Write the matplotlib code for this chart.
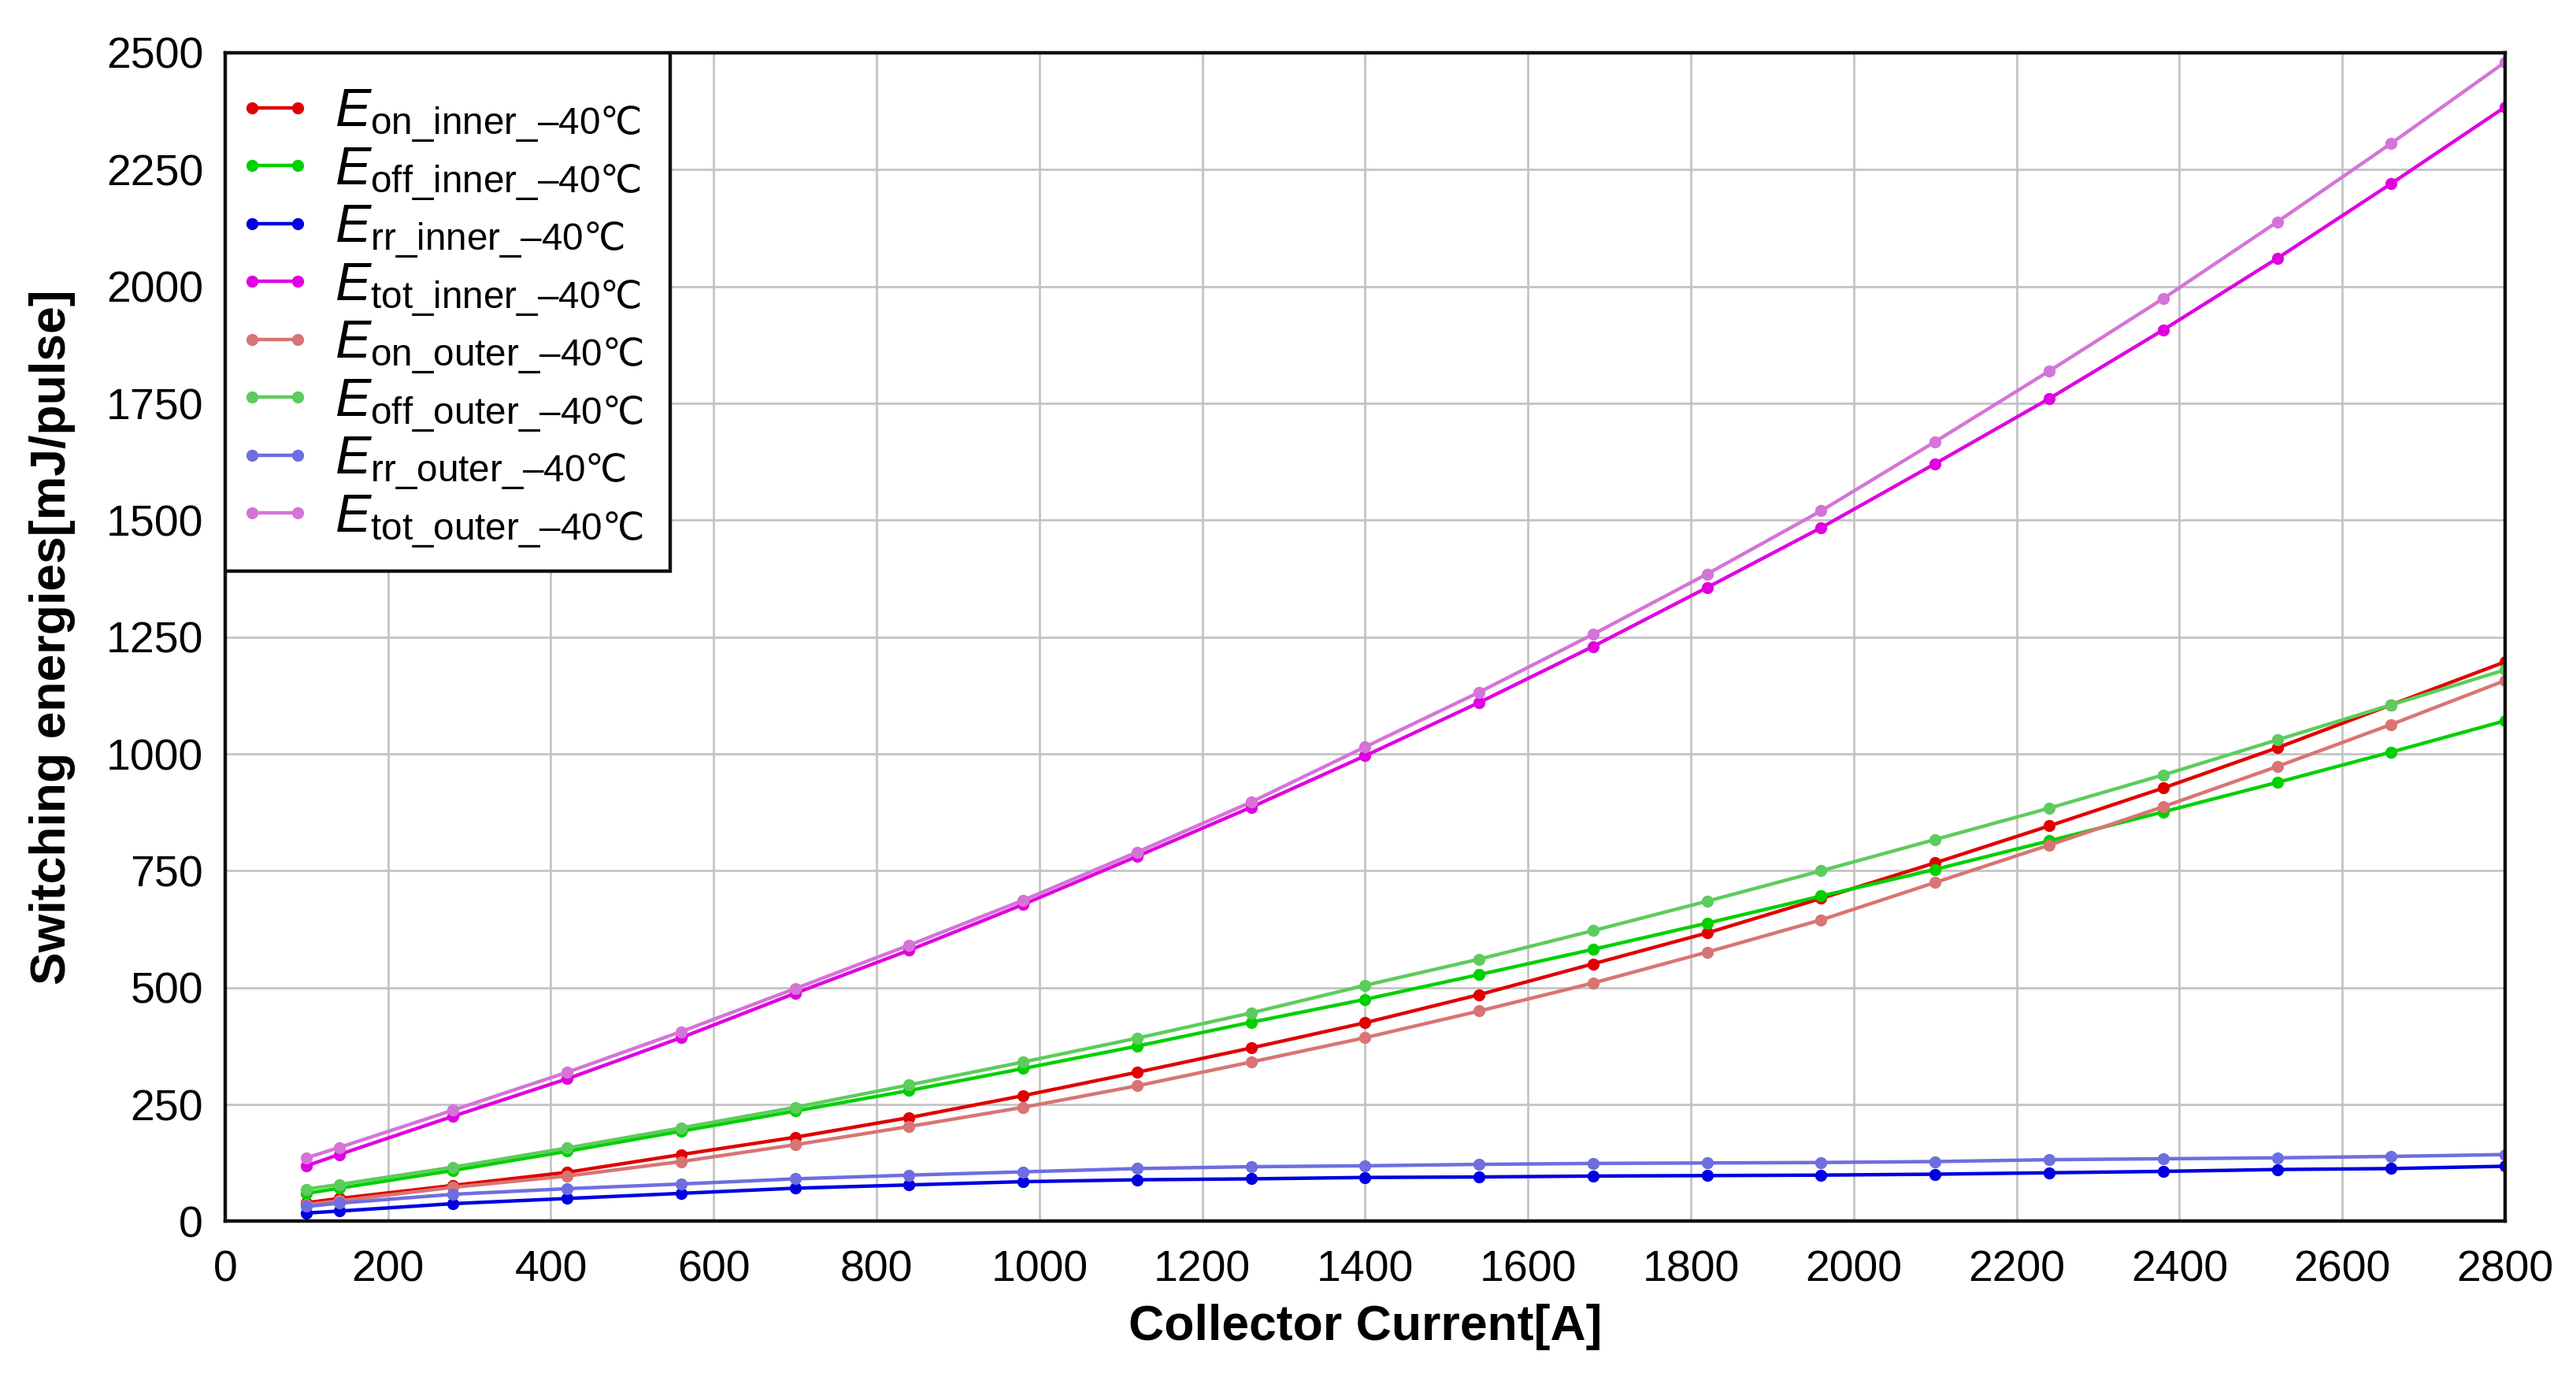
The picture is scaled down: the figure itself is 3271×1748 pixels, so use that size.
import matplotlib
matplotlib.use("Agg")
import matplotlib.pyplot as plt
from matplotlib.patches import Rectangle
from matplotlib.transforms import IdentityTransform

plt.rcParams['font.family'] = ['Liberation Sans', 'DejaVu Sans']
plt.rcParams['mathtext.fontset'] = 'custom'
plt.rcParams['mathtext.rm'] = 'Liberation Sans'
plt.rcParams['mathtext.it'] = 'Liberation Sans:italic'
plt.rcParams['mathtext.sf'] = 'Noto Sans CJK SC'

current = [100, 140, 280, 420, 560, 700, 840, 980, 1120, 1260, 1400,
           1540, 1680, 1820, 1960, 2100, 2240, 2380, 2520, 2660, 2800]

eon_inner = [40, 49, 77, 105, 143, 180, 222, 269, 319, 371, 425,
             485, 551, 617, 691, 767, 846, 927, 1013, 1105, 1197]
eoff_inner = [60, 71, 109, 150, 193, 236, 280, 327, 375, 426, 475,
              528, 582, 638, 696, 753, 814, 876, 939, 1004, 1071]
err_inner = [18, 22, 38, 49, 60, 71, 78, 85, 89, 91, 94,
             95, 97, 98, 99, 101, 104, 107, 111, 113, 118]
etot_inner = [119, 143, 225, 305, 393, 488, 580, 678, 781, 886, 996,
              1110, 1230, 1356, 1484, 1621, 1760, 1907, 2060, 2220, 2384]
eon_outer = [36, 44, 73, 97, 128, 164, 203, 244, 290, 341, 393,
             450, 510, 576, 645, 725, 805, 887, 973, 1063, 1157]
eoff_outer = [69, 79, 116, 157, 200, 244, 292, 341, 392, 446, 505,
              561, 622, 685, 750, 817, 884, 955, 1030, 1105, 1180]
err_outer = [32, 39, 58, 70, 80, 91, 99, 106, 113, 117, 119,
             122, 124, 125, 126, 128, 132, 134, 136, 139, 143]
etot_outer = [136, 158, 238, 319, 406, 498, 591, 687, 790, 897, 1015,
              1132, 1256, 1385, 1520, 1668, 1819, 1974, 2138, 2306, 2480]

series = [
    (eon_inner, '#e00000', 'on'), (eoff_inner, '#00d000', 'off'),
    (err_inner, '#0000e0', 'rr'), (etot_inner, '#e000e0', 'tot'),
    (eon_outer, '#d87474', 'on'), (eoff_outer, '#5ccc5c', 'off'),
    (err_outer, '#6e6ee0', 'rr'), (etot_outer, '#d474d8', 'tot'),
]
places = ['inner'] * 4 + ['outer'] * 4

fig = plt.figure(figsize=(16.355, 8.74), dpi=200)
ax = fig.add_axes([0.0874, 0.113, 0.8851, 0.8487])

for (vals, col, kind), place in zip(series, places):
    label = '$E_{\\mathrm{' + kind + '\\_' + place + '\\_}–\\mathrm{40}\\mathsf{℃}}$'
    ax.plot(current, vals, color=col, lw=1.6, marker='o', markersize=4.5,
            label=label)

ax.set_xlim(0, 2800)
ax.set_ylim(0, 2500)
ax.set_xticks(range(0, 2801, 200))
ax.set_yticks(range(0, 2501, 250))
ax.tick_params(length=0, labelsize=20)
ax.tick_params(axis='x', pad=13)
ax.tick_params(axis='y', pad=10)
ax.grid(color='#c4c4c4', lw=1.0)
ax.set_axisbelow(True)
for s in ax.spines.values():
    s.set_linewidth(1.6)
    s.set_color('#111111')

ax.set_xlabel('Collector Current[A]', fontsize=22.5, fontweight='bold', labelpad=6)
ax.set_ylabel('Switching energies[mJ/pulse]', fontsize=22.5, fontweight='bold', labelpad=14)

# legend without its own frame, pushed down a bit; the box is drawn by hand
ax_h = fig.get_figheight() * fig.dpi * 0.8487
leg = ax.legend(loc='upper left', bbox_to_anchor=(0, 1 - 30 / ax_h),
                borderaxespad=0, fontsize=24.5, numpoints=2,
                handlelength=1.45, labelspacing=0.01, handletextpad=0.4,
                frameon=False, borderpad=0.2)
leg.set_zorder(6)

fig.canvas.draw()
bb = leg.get_window_extent()
ab = ax.get_window_extent()
box_bottom = bb.y0 - 14
box = Rectangle((ab.x0, box_bottom), bb.x1 + 21 - ab.x0, ab.y1 - box_bottom,
                transform=IdentityTransform(), facecolor='white',
                edgecolor='#111111', lw=1.6, zorder=5)
ax.add_patch(box)

fig.savefig('out.png', dpi=200)
